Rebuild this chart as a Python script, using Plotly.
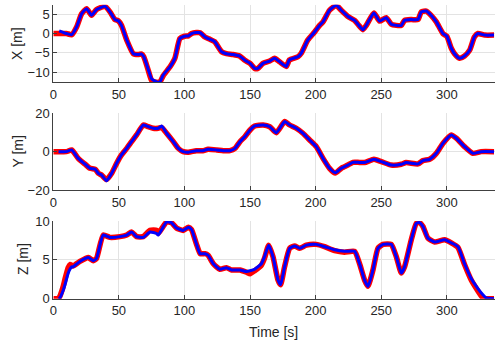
import plotly.graph_objects as go

# X position: reference (red) and estimate (blue)
t_x = [0, 4.5, 10, 14, 17.8, 21.6, 25.4, 29.2, 33, 39.4, 43.2, 47, 49.5, 52, 56,
       61, 64.8, 67.3, 69, 72.4, 75, 78.8, 81.3, 83.8, 89, 92.7, 96.5, 100, 103, 105.4,
       109, 112, 115.6, 119.4, 123, 128.3, 132, 137, 142, 146, 150, 153.5, 156, 159.8, 165,
       168.7, 172.5, 177.6, 180, 186.5, 189, 194, 199.2, 203, 205.6, 210.6, 215.7, 219.5, 224.6, 229.7,
       232.2, 236, 238.6, 244.4, 248.8, 253.8, 257.6, 261.5, 265.3, 267.8, 272.9, 278, 280.5, 284.3, 288,
       292, 297, 300, 303.4, 306, 309.7, 313.5, 317.4, 321, 323.7, 328.8, 336]
x_ref = [0, 0, 0, -0.3, 1.7, 5.1, 6.4, 4.7, 6.2, 7.0, 5.6, 3.6, 3.3, 2.1, -1.7,
         -5.2, -5.4, -5.3, -6.0, -9.5, -12.1, -12.6, -12.5, -10.9, -8.6, -6.4, -1.3, -0.7, -0.6, 0,
         0.25, 0.2, -0.9, -1.5, -2.1, -4.7, -5.2, -5.4, -5.8, -6.9, -7.7, -9.0, -9.0, -7.7, -7.1,
         -6.4, -7.3, -8.5, -6.8, -6.0, -5.1, -1.7, 0.4, 2.1, 3.0, 6.0, 7.3, 6.0, 4.4, 3.4,
         2.4, 1.0, 2.1, 5.3, 3.2, 4.1, 2.4, 2.1, 2.1, 3.4, 3.6, 3.6, 5.6, 5.8, 4.7,
         3.0, 0, -0.7, -3.8, -5.3, -6.4, -5.8, -4.3, -0.9, 0, -0.4, -0.4]
x_est = [None, 0.7, 0, -0.3, 1.7, 5.1, 6.4, 4.7, 6.2, 7.0, 5.6, 3.6, 3.3, 2.1, -1.7,
         -5.2, -5.4, -5.3, -6.0, -9.3, -11.7, -12.5, -12.5, -10.7, -8.6, -6.4, -1.3, -0.7, -0.6, 0,
         0.25, 0.2, -0.9, -1.5, -2.1, -4.7, -5.2, -5.4, -5.8, -6.9, -7.7, -9.0, -9.0, -7.7, -7.1,
         -6.4, -7.3, -8.5, -6.8, -6.0, -5.1, -1.7, 0.4, 2.1, 3.0, 6.0, 7.3, 6.0, 4.4, 3.4,
         2.4, 1.0, 2.1, 5.3, 3.2, 4.1, 2.4, 2.1, 2.1, 3.4, 3.6, 3.6, 5.6, 5.8, 4.7,
         3.0, 0, -0.7, -3.8, -5.3, -6.4, -5.8, -4.3, -0.9, 0, -0.4, -0.4]

# Y position
t_y = [0, 4, 10, 14, 19, 24, 28, 32, 34.3, 36.8, 40.6, 44.5, 48.3, 52, 56,
       59.7, 63.5, 68.6, 72.4, 76.2, 80, 82.6, 86.4, 91.5, 95.3, 99, 103, 109, 114, 118,
       124.5, 129.6, 134.6, 138.5, 142.3, 146, 150, 153.5, 160, 165, 170, 176.4, 180.2, 185.2, 190.3,
       195.4, 200.5, 205.6, 210.6, 215, 219.5, 224.6, 228.4, 232.2, 237.3, 244.4, 250, 257.6, 265.3, 269,
       278, 281.8, 286.9, 292, 297, 303.4, 307.2, 313.5, 319.9, 326.2, 336]
y_ref = [0, 0, 0, 0.9, -3.5, -6.4, -8.7, -9.2, -11.3, -12.2, -14.6, -11.3, -6.1, -1.7, 1.7,
         5.2, 8.7, 13.9, 13.0, 12.2, 12.2, 12.6, 9.6, 5.2, 1.7, 0, -0.3, 0.5, 0.5, 1.2,
         0.9, 0.5, 0.5, 1.7, 5.2, 7.8, 11.3, 13.4, 13.9, 13.0, 9.9, 15.7, 13.9, 12.2, 9.6,
         6.1, 2.6, -3.5, -8.7, -11.2, -8.7, -7.0, -5.6, -5.6, -5.7, -4.0, -5.2, -7.0, -6.6, -5.7,
         -6.4, -4.7, -4.0, -0.9, 4.3, 8.7, 7.0, 2.6, -0.9, 0, 0]
y_est = [None, 0, 0, 0.9, -3.5, -6.4, -8.7, -9.2, -11.3, -12.2, -15.2, -11.3, -6.1, -1.7, 1.7,
         5.2, 8.7, 13.9, 13.0, 12.2, 12.2, 13.4, 9.6, 5.2, 1.7, 0, -0.3, 0.5, 0.5, 1.2,
         0.9, 0.5, 0.5, 1.7, 5.2, 7.8, 11.3, 13.4, 13.9, 13.0, 9.9, 15.7, 13.9, 12.2, 9.6,
         6.1, 2.6, -3.5, -8.7, -11.0, -8.7, -7.0, -5.6, -5.6, -5.7, -4.0, -5.2, -7.0, -6.6, -5.7,
         -6.4, -4.7, -4.0, -0.9, 4.3, 8.7, 7.0, 2.6, -0.9, 0, 0]

# Z position
t_z = [0, 4, 5, 7.6, 8.9, 11.4, 12.7, 14, 15, 20.3, 26.7, 30.5, 33, 38, 43.2,
       50.8, 56, 59.7, 63.5, 68.6, 73.7, 78.8, 80, 86.4, 90, 94, 99, 103, 105.4, 109,
       112, 115.6, 118, 122, 127, 132, 136, 142.3, 147.4, 150, 153.5, 158.6, 161, 164.2, 167.5,
       171.3, 173.3, 176.3, 180.2, 184, 187.8, 192.9, 200.5, 206.8, 214.5, 222, 229.7, 233.5, 237.3, 239.9,
       243.7, 247.5, 251.3, 257.6, 261.5, 265.3, 267.8, 272.9, 276.7, 279.2, 281.8, 285.6, 290.7, 298.3, 303.4,
       308.5, 313.5, 318.6, 323.7, 327.5, 330, 336]
z_ref = [0, 0, 0.3, 1.6, 2.5, 4.0, 4.4, 4.3, 4.2, 4.8, 5.3, 4.9, 5.2, 8.2, 7.9,
         8.0, 8.2, 8.6, 8.0, 8.0, 8.8, 8.8, 8.4, 9.9, 9.8, 9.1, 8.8, 9.2, 8.9, 7.1,
         5.8, 5.8, 5.6, 4.5, 3.8, 4.0, 3.7, 3.7, 3.4, 3.2, 3.6, 4.3, 5.2, 6.9, 5.4,
         2.4, 1.8, 4.1, 6.5, 6.8, 6.5, 6.9, 7.0, 6.7, 6.2, 6.0, 6.1, 4.5, 2.4, 1.6,
         3.7, 6.5, 7.0, 7.0, 5.4, 3.3, 4.1, 7.6, 9.7, 9.8, 9.3, 7.8, 7.3, 7.6, 7.2,
         6.6, 4.4, 2.4, 1.0, 0.1, 0, 0]
z_est = [None, 0, 0.1, 1.1, 1.8, 3.3, 3.8, 4.1, 4.1, 4.8, 5.3, 4.9, 5.2, 8.2, 7.9,
         8.0, 8.2, 8.6, 8.0, 7.9, 8.6, 8.4, 8.2, 9.9, 9.8, 9.1, 8.8, 9.2, 8.9, 7.1,
         5.8, 5.8, 5.6, 4.5, 3.8, 4.0, 3.7, 3.7, 3.5, 3.6, 3.8, 4.5, 5.4, 6.9, 5.4,
         2.4, 1.8, 4.1, 6.5, 6.8, 6.5, 6.9, 7.0, 6.7, 6.3, 6.1, 6.1, 4.5, 2.4, 1.6,
         3.7, 6.5, 7.0, 7.0, 5.4, 3.3, 4.1, 7.6, 9.7, 9.8, 9.3, 7.8, 7.3, 7.6, 7.2,
         6.7, 4.5, 2.6, 1.3, 0.5, 0.1, 0]

for t, a, b in [(t_x, x_ref, x_est), (t_y, y_ref, y_est), (t_z, z_ref, z_est)]:
    assert len(t) == len(a) == len(b)

panels = [
    ("X [m]", t_x, x_ref, x_est, [-12.6, 7.4], [-10, -5, 0, 5], [0.762, 0.986], 17, 44),
    ("Y [m]", t_y, y_ref, y_est, [-20, 20], [-20, 0, 20], [0.451, 0.6725], 17.5, 152),
    ("Z [m]", t_z, z_ref, z_est, [0, 10], [0, 5, 10], [0.1367, 0.361], 23, 259),
]

fig = go.Figure()
font = "Liberation Sans, Arial, sans-serif"
axis_common = dict(
    showline=True, linecolor="#404040", linewidth=1,
    showgrid=True, gridcolor="#e3e3e3", gridwidth=1,
    ticks="inside", ticklen=4, tickcolor="#404040",
    zeroline=False, mirror=False, automargin=False,
    tickfont=dict(family=font, size=13, color="#262626"),
)

for i, (label, t, ref, est, yr, ytk, dom, lx, ly) in enumerate(panels, start=1):
    xa = "x" if i == 1 else f"x{i}"
    ya = "y" if i == 1 else f"y{i}"
    fig.add_trace(go.Scatter(x=t, y=ref, mode="lines", xaxis=xa, yaxis=ya,
                             line=dict(color="#ff0000", width=5.5, shape="spline", smoothing=0.5),
                             showlegend=False))
    fig.add_trace(go.Scatter(x=t, y=est, mode="lines", xaxis=xa, yaxis=ya,
                             line=dict(color="#0000ff", width=3, shape="spline", smoothing=0.5),
                             showlegend=False))
    fig.layout[f"xaxis{'' if i == 1 else i}"] = dict(
        axis_common, domain=[0.107, 0.9934], range=[0, 336.5],
        tickvals=[0, 50, 100, 150, 200, 250, 300], anchor=ya)
    fig.layout[f"yaxis{'' if i == 1 else i}"] = dict(
        axis_common, domain=dom, range=yr, tickvals=ytk, anchor=xa)
    fig.add_annotation(text=label, x=lx / 498, y=1 - ly / 346, xref="paper", yref="paper",
                       xanchor="center", yanchor="middle",
                       textangle=-90, showarrow=False,
                       font=dict(family=font, size=14, color="#262626"))

fig.add_annotation(text="Time [s]", x=273 / 498, y=1 - 332 / 346, xref="paper", yref="paper",
                   xanchor="center", yanchor="middle",
                   showarrow=False, font=dict(family=font, size=14, color="#262626"))

fig.update_layout(
    width=498, height=346,
    margin=dict(l=0, r=0, t=0, b=0, autoexpand=False),
    paper_bgcolor="white", plot_bgcolor="white",
)

# page body has a default 8px margin; drop it so the figure fills the window
fig.write_html("out.html", config={"displayModeBar": False},
               post_script="document.body.style.margin='0px';")
